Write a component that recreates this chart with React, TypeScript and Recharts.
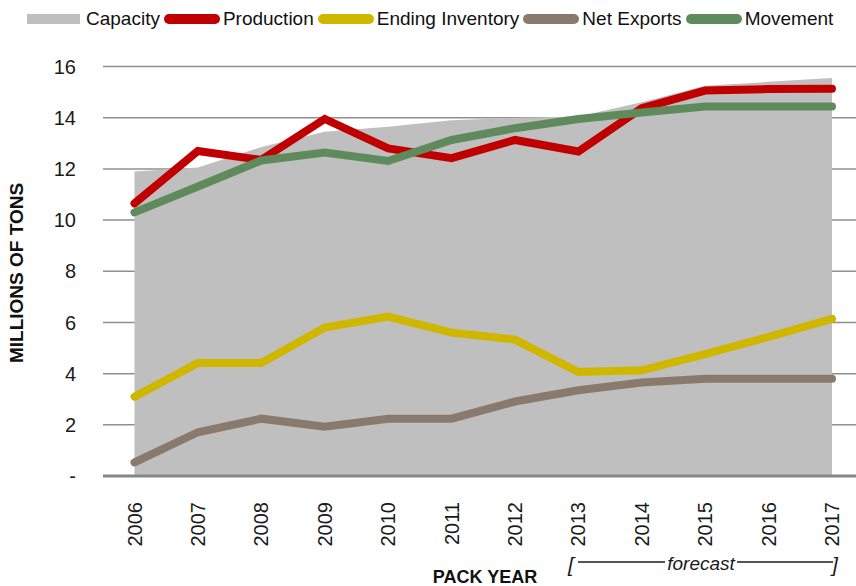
import React from 'react';
import { ComposedChart, Area, Line, XAxis, YAxis, CartesianGrid, Label } from 'recharts';

const years = ['2006', '2007', '2008', '2009', '2010', '2011', '2012', '2013', '2014', '2015', '2016', '2017'];
const capacity = [11.9, 12.05, 12.85, 13.45, 13.65, 13.9, 14.0, 14.05, 14.6, 15.25, 15.4, 15.55];
const production = [10.65, 12.7, 12.35, 13.95, 12.8, 12.42, 13.13, 12.68, 14.37, 15.06, 15.12, 15.13];
const endingInventory = [3.1, 4.42, 4.42, 5.8, 6.23, 5.6, 5.33, 4.06, 4.13, 4.76, 5.44, 6.14];
const netExports = [0.53, 1.71, 2.24, 1.93, 2.24, 2.24, 2.91, 3.35, 3.65, 3.8, 3.8, 3.8];
const movement = [10.3, 11.31, 12.33, 12.64, 12.31, 13.13, 13.59, 13.95, 14.2, 14.44, 14.44, 14.44];
const yTicks = [0, 2, 4, 6, 8, 10, 12, 14, 16];

const rows = years.map((year, i) => ({
  year,
  capacity: capacity[i],
  production: production[i],
  endingInventory: endingInventory[i],
  netExports: netExports[i],
  movement: movement[i],
}));

const legendItems = [
  { name: 'Capacity', color: '#bfbfbf', kind: 'rect' },
  { name: 'Production', color: '#c00000', kind: 'line' },
  { name: 'Ending Inventory', color: '#cfb700', kind: 'line' },
  { name: 'Net Exports', color: '#8a7a6e', kind: 'line' },
  { name: 'Movement', color: '#5f8b5c', kind: 'line' },
];

const font = '"Liberation Sans", Arial, sans-serif';

// rotated year labels under the axis
const YearTick = (props: any) => {
  const { x, y, payload } = props;
  return (
    <text
      transform={`translate(${x + 7},${y + 24}) rotate(-90)`}
      textAnchor="end"
      fontSize={20}
      fontFamily={font}
      fill="#1a1a1a"
    >
      {payload.value}
    </text>
  );
};

const ForecastMark = () => (
  <g fontFamily={font} fontStyle="italic" fontSize={19} fill="#1a1a1a">
    <text x={568} y={572} fontSize={21}>[</text>
    <line x1={578} x2={665} y1={562} y2={562} stroke="#1a1a1a" strokeWidth={1.3} />
    <text x={701} y={570} textAnchor="middle">forecast</text>
    <line x1={737} x2={833} y1={562} y2={562} stroke="#1a1a1a" strokeWidth={1.3} />
    <text x={832} y={572} fontSize={21}>]</text>
  </g>
);

const Legend = () => (
  <div
    style={{
      position: 'absolute',
      top: 8,
      left: 27,
      display: 'flex',
      alignItems: 'center',
      fontFamily: font,
      fontSize: 19,
      color: '#111',
      whiteSpace: 'nowrap',
    }}
  >
    {legendItems.map((it) => (
      <div key={it.name} style={{ display: 'flex', alignItems: 'center', marginRight: 4 }}>
        <svg width={56} height={12} style={{ marginRight: 3 }}>
          {it.kind === 'rect' ? (
            <rect x={0} y={1} width={53} height={10} fill={it.color} />
          ) : (
            <line x1={5} x2={51} y1={6} y2={6} stroke={it.color} strokeWidth={10} strokeLinecap="round" />
          )}
        </svg>
        <span>{it.name}</span>
      </div>
    ))}
  </div>
);

export default function App() {
  return (
    <div style={{ position: 'absolute', left: 0, top: 0, width: 856, height: 586, background: '#fff' }}>
      <Legend />
      <ComposedChart width={856} height={586} data={rows} margin={{ top: 66.5, right: 0, bottom: 0, left: 0 }}>
        <CartesianGrid vertical={false} stroke="#8f8f8f" strokeWidth={1.5} />
        <XAxis
          dataKey="year"
          scale="point"
          padding={{ left: 31.5, right: 24 }}
          height={110}
          interval={0}
          tickLine={false}
          tickSize={0}
          axisLine={{ stroke: '#868686', strokeWidth: 3 }}
          tick={<YearTick />}
        >
          <Label
            content={() => (
              <text x={485} y={583} textAnchor="middle" fontFamily={font} fontWeight="bold" fontSize={18} fill="#111">
                PACK YEAR
              </text>
            )}
          />
          <Label content={() => <ForecastMark />} />
        </XAxis>
        <YAxis
          width={103}
          domain={[0, 16]}
          ticks={yTicks}
          interval={0}
          axisLine={false}
          tickLine={false}
          tickSize={0}
          tickMargin={27}
          tick={{ fontSize: 20, fontFamily: font, fill: '#1a1a1a' }}
          tickFormatter={(v: number) => (v === 0 ? '-' : String(v))}
        >
          <Label
            content={() => (
              <text
                transform="translate(23,273) rotate(-90)"
                textAnchor="middle"
                fontFamily={font}
                fontWeight="bold"
                fontSize={19}
                fill="#111"
              >
                MILLIONS OF TONS
              </text>
            )}
          />
        </YAxis>
        <Area type="linear" dataKey="capacity" fill="#bfbfbf" fillOpacity={1} stroke="none" isAnimationActive={false} />
        <Line type="linear" dataKey="production" stroke="#c00000" strokeWidth={8} strokeLinecap="round" dot={false} isAnimationActive={false} />
        <Line type="linear" dataKey="endingInventory" stroke="#cfb700" strokeWidth={8} strokeLinecap="round" dot={false} isAnimationActive={false} />
        <Line type="linear" dataKey="netExports" stroke="#8a7a6e" strokeWidth={8} strokeLinecap="round" dot={false} isAnimationActive={false} />
        <Line type="linear" dataKey="movement" stroke="#5f8b5c" strokeWidth={8} strokeLinecap="round" dot={false} isAnimationActive={false} />
      </ComposedChart>
    </div>
  );
}
